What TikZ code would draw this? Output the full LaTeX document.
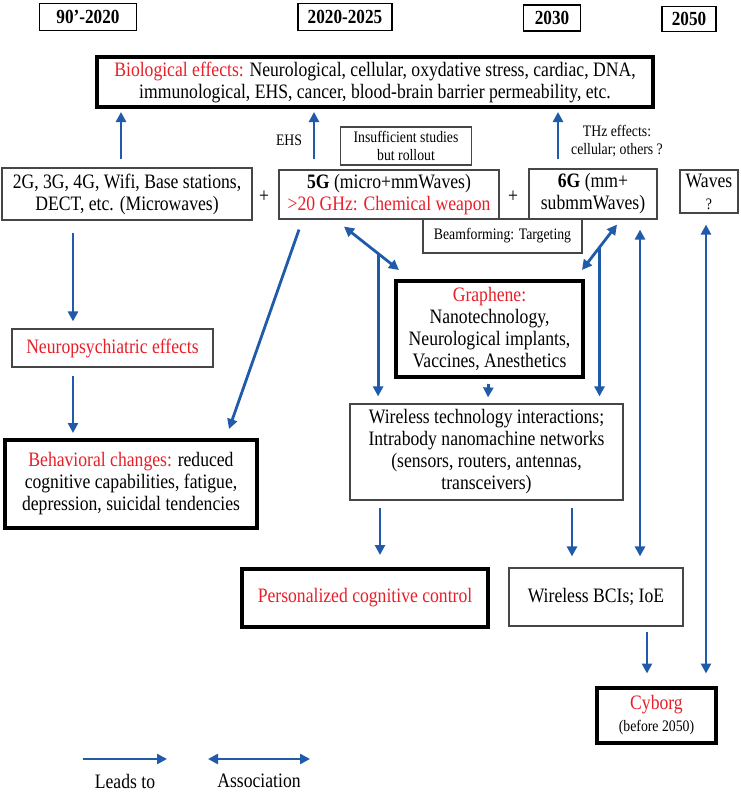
\documentclass[tikz,border=0pt]{standalone}
\usepackage{fontspec}
\setmainfont{Liberation Serif}[FakeStretch=0.86]
\usetikzlibrary{arrows.meta,calc}
\definecolor{effred}{RGB}{232,30,40}
\definecolor{arrowblue}{RGB}{31,91,168}
\definecolor{boxgray}{RGB}{70,70,70}
\newcommand{\mainsize}{\fontsize{20.5}{22}\selectfont}
\newcommand{\notesize}{\fontsize{16}{18.5}\selectfont}

\begin{document}
\begin{tikzpicture}[x=1pt,y=-1pt,
	box/.style={draw=boxgray,line width=1.2pt,align=center,inner sep=0pt,font=\mainsize},
	bigbox/.style={box,draw=black,line width=4pt},
	yearbox/.style={draw=black,line width=1.4pt,inner sep=0pt,font=\fontsize{20}{21}\selectfont\bfseries},
	note/.style={align=center,inner sep=0pt,font=\notesize},
	leads/.style={draw=arrowblue,line width=2.8pt,-{Triangle[length=10pt,width=10pt]}},
	assoc/.style={leads,{Triangle[length=10pt,width=10pt]}-{Triangle[length=10pt,width=10pt]}}]
	\useasboundingbox (0,0) rectangle (740,792);

	% years
	\node[yearbox,minimum width=97,minimum height=27] (y90) at (88,17) {90'-2020};
	\node[yearbox,minimum width=94,minimum height=27] (y20) at (345,17) {2020-2025};
	\node[yearbox,minimum width=57,minimum height=26] (y30) at (552,18) {2030};
	\node[yearbox,minimum width=54,minimum height=25] (y50) at (689,19) {2050};

	% boxes
	\node[bigbox,minimum width=556,minimum height=50] (bio) at (375,82) {\textcolor{effred}{Biological effects:} Neurological, cellular, oxydative stress, cardiac, DNA,\\immunological, EHS, cancer, blood-brain barrier permeability, etc.};
	\node[box,note,minimum width=131,minimum height=38] (ins) at (406,146) {Insufficient studies\\but rollout};
	\node[box,minimum width=250,minimum height=52] (g2) at (127,194) {2G, 3G, 4G, Wifi, Base stations,\\DECT, etc. (Microwaves)};
	\node[box,minimum width=220,minimum height=49] (g5) at (389,194.5) {\textbf{5G} (micro+mmWaves)\\\textcolor{effred}{>20 GHz: Chemical weapon}};
	\node[box,minimum width=128,minimum height=50] (g6) at (593,194) {\textbf{6G} (mm+\\submmWaves)};
	\node[box,minimum width=58,minimum height=43] (waves) at (709,191.5) {Waves\\{\notesize ?}};
	\node[box,note,fill=white,minimum width=159,minimum height=34] (beam) at (502.5,236) {Beamforming: Targeting};
	\node[box,minimum width=201,minimum height=38] (neuro) at (112.5,348) {\textcolor{effred}{Neuropsychiatric effects}};
	\node[bigbox,minimum width=252,minimum height=88] (behav) at (131,484) {\textcolor{effred}{Behavioral changes:} reduced\\cognitive capabilities, fatigue,\\depression, suicidal tendencies};
	\node[bigbox,minimum width=187,minimum height=96] (graph) at (489.5,329) {\textcolor{effred}{Graphene:}\\Nanotechnology,\\Neurological implants,\\Vaccines, Anesthetics};
	\node[box,minimum width=273,minimum height=96] (wtech) at (486.5,452) {Wireless technology interactions;\\Intrabody nanomachine networks\\(sensors, routers, antennas,\\transceivers)};
	\node[bigbox,minimum width=246,minimum height=58] (perso) at (365,598) {\textcolor{effred}{Personalized cognitive control}};
	\node[box,minimum width=174,minimum height=58] (bci) at (596,597) {Wireless BCIs; IoE};
	\node[bigbox,minimum width=119,minimum height=55] (cyborg) at (656.5,715) {\textcolor{effred}{Cyborg}\\{\notesize (before 2050)}};

	% small labels
	\node[font=\mainsize] (plus1) at (264,197) {+};
	\node[font=\mainsize] (plus2) at (513,197) {+};
	\node[note] (ehs) at (289,140) {EHS};
	\node[note] (thz) at (617,141) {THz effects:\\cellular; others ?};

	% arrows
	\draw[leads] ($(g2.north)+(-6,-8)$) -- ($(bio.south -| g2.north)+(-6,3)$);
	\draw[leads] ($(g5.north)+(-75,-10)$) -- ($(bio.south -| g5.north)+(-75,3)$);
	\draw[leads] ($(g6.north)+(-35,-9)$) -- ($(bio.south -| g6.north)+(-35,3)$);
	\draw[leads] ($(g2.south)+(-54,12)$) -- ($(neuro.north)+(-39.5,-7)$);
	\draw[leads] ($(neuro.south)+(-39.5,8)$) -- ($(behav.north)+(-58,-5)$);
	\draw[leads] ($(g5.south)+(-90,10)$) -- ($(behav.north)+(98,-9)$);
	\draw[assoc] ($(g5.south)+(-45,7)$) -- coordinate[pos=0.62] (s5) ($(graph.north)+(-90.5,-9)$);
	\draw[assoc] ($(g6.south)+(24,5)$) -- coordinate[pos=0.5] (s6) ($(graph.north)+(92.5,-9)$);
	\draw[leads] (s5) -- ($(s5 |- wtech.north)+(0,-7)$);
	\draw[leads] (s6) -- ($(s6 |- wtech.north)+(0,-7)$);
	\draw[leads] ($(graph.south)+(-1,5)$) -- ($(wtech.north)+(1.5,-6)$);
	\draw[leads] ($(wtech.south)+(-106.5,7)$) -- ($(perso.north)+(15,-12)$);
	\draw[leads] ($(wtech.south)+(85.5,7)$) -- ($(bci.north)+(-24,-11)$);
	\draw[assoc] ($(g6.south)+(47,10)$) -- ($(bci.north)+(44,-11)$);
	\draw[leads] ($(bci.south)+(51,5)$) -- ($(cyborg.north)+(-9.5,-12)$);
	\draw[assoc] ($(waves.south)+(-3,11)$) -- ($(cyborg.north)+(49.5,-12)$);

	% legend
	\coordinate (la) at (83,759);
	\coordinate (lb) at (167,759);
	\coordinate (aa) at (208,759);
	\coordinate (ab) at (310,759);
	\draw[leads] (la) -- (lb);
	\draw[assoc] (aa) -- (ab);
	\node[font=\mainsize] (leadtxt) at (125,781) {Leads to};
	\node[font=\mainsize] (asstxt) at (259,781) {Association};
\end{tikzpicture}
\end{document}
